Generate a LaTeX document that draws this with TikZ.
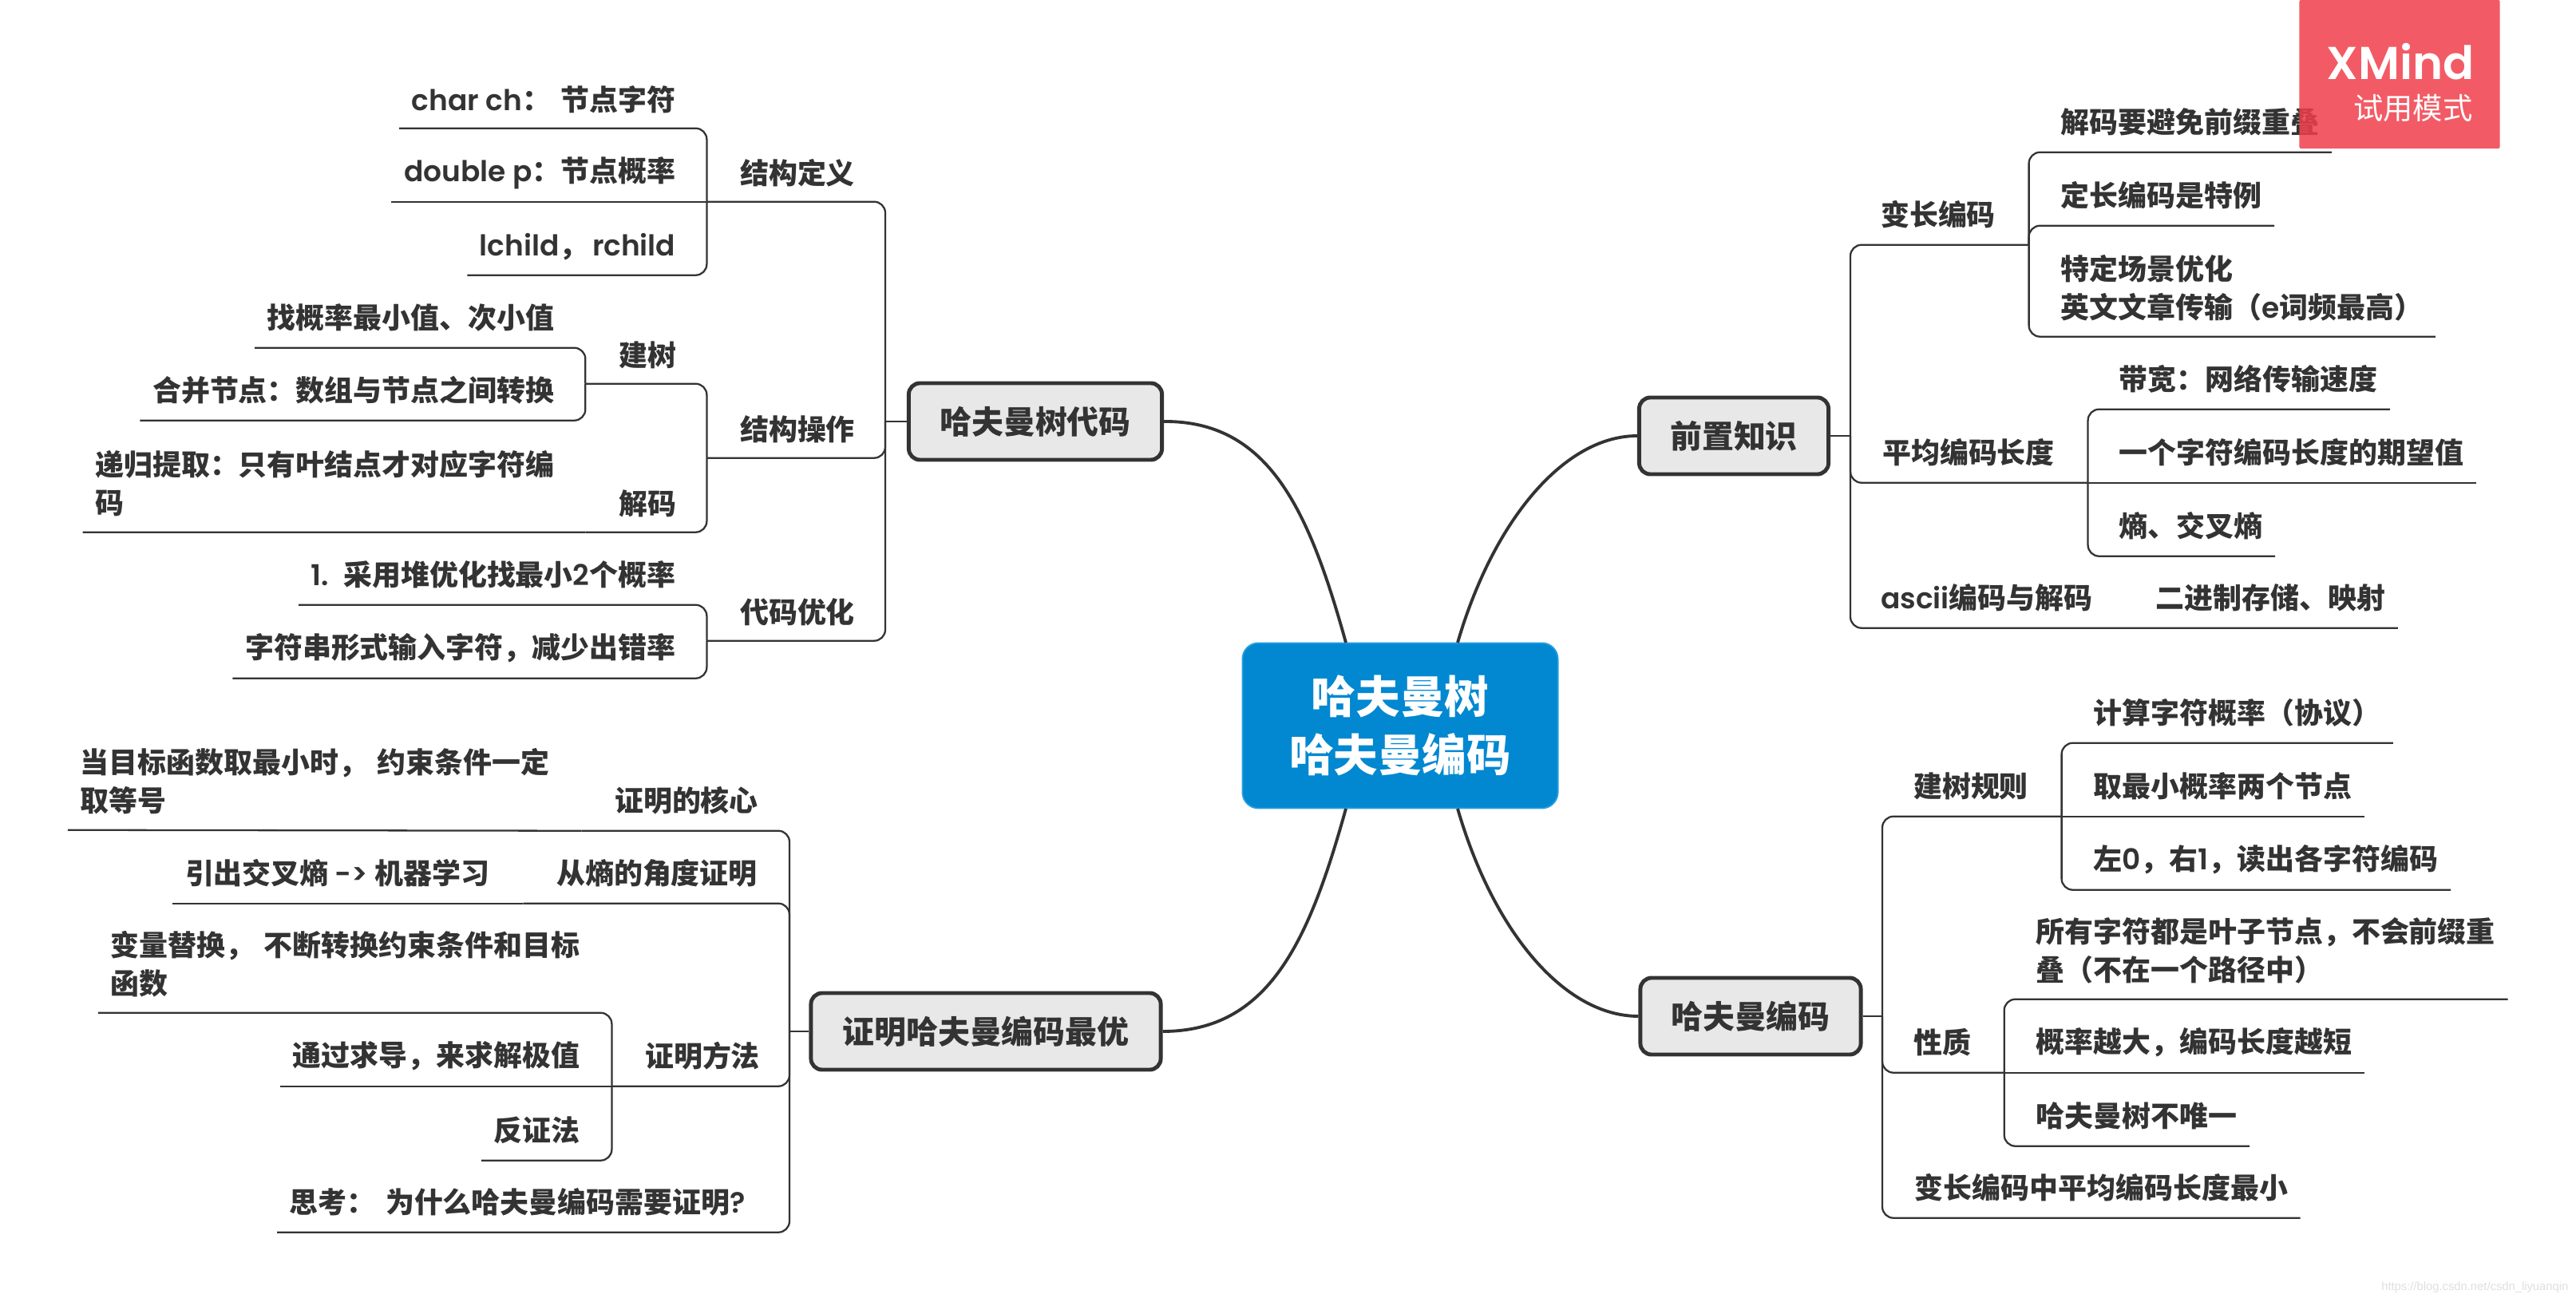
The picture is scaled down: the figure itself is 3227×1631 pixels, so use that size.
\documentclass[tikz,border=0pt]{standalone}
\usepackage{fontspec}
\setmainfont{Noto Sans CJK SC}
\newfontfamily\latfont{Poppins}[BoldFont=* SemiBold]
\newfontfamily\srcfont{Liberation Sans}
\newcommand{\lat}[1]{{\latfont #1}}
\newcommand{\wide}{\hspace{0.35em}}
\definecolor{inkgray}{HTML}{333333}
\definecolor{boxgray}{HTML}{E8E8E8}
\definecolor{rootblue}{HTML}{0288D1}
\definecolor{rootedge}{HTML}{2A9FE0}
\definecolor{markred}{HTML}{F03E4A}
\tikzset{
  leafnode/.style={inner xsep=0.15cm, inner ysep=0pt, minimum height=0.74cm, align=left, text=inkgray, font=\fontsize{10.22}{13.65}\selectfont\bfseries},
  longleaf/.style={leafnode, minimum height=1.2cm},
  midnode/.style={leafnode, inner xsep=0.41cm},
  branchbox/.style={draw=inkgray, line width=1.4pt, fill=boxgray, rounded corners=0.14cm, minimum height=0.96cm, inner sep=0pt, text=inkgray, font=\fontsize{11.34}{14}\selectfont\bfseries},
  treeline/.style={draw=inkgray, line width=0.65pt, rounded corners=0.14cm},
  curveline/.style={draw=inkgray, line width=1.1pt}
}
\begin{document}
\begin{tikzpicture}[x=0.01cm, y=-0.01cm]
    \useasboundingbox (0,0) rectangle (3227,1631);

    % Central topic and branches
    \node[draw=rootedge, line width=0.5pt, fill=rootblue, rounded corners=0.2cm, minimum width=3.95cm, minimum height=2.07cm, align=center, text=white, font=\fontsize{15.8}{20.7}\selectfont\bfseries] (root) at (1754,909) {哈夫曼树\\哈夫曼编码};
    \node[branchbox, minimum width=3.17cm] (treecode) at (1297,528) {哈夫曼树代码};
    \node[branchbox, minimum width=2.37cm] (prior) at (2172,546) {前置知识};
    \node[branchbox, minimum width=4.38cm] (proof) at (1235,1292) {证明哈夫曼编码最优};
    \node[branchbox, minimum width=2.76cm] (coding) at (2193,1273) {哈夫曼编码};

    \draw[curveline] (1686,805) .. controls (1640,640) and (1590,527) .. (treecode.east);
    \draw[curveline] (1826,805) .. controls (1871,651) and (1960,546) .. (prior.west);
    \draw[curveline] (1686,1013) .. controls (1640,1178) and (1590,1292) .. (proof.east);
    \draw[curveline] (1826,1013) .. controls (1871,1168) and (1960,1273) .. (coding.west);

    % Tree code
    \coordinate (treecodeB) at (1109,528);
    \node[midnode, minimum height=0.7cm] (define) at (999,217) {结构定义};
    \node[midnode, minimum height=0.7cm] (operate) at (999,538) {结构操作};
    \node[midnode, minimum height=0.7cm] (optimize) at (999,767) {代码优化};
    \node[leafnode, minimum height=0.7cm, anchor=east] (charch) at (862,125) {\lat{char ch}：\wide 节点字符};
    \node[leafnode, minimum height=0.7cm, anchor=east] (doublep) at (862,217) {\lat{double p}：节点概率};
    \node[leafnode, minimum height=0.7cm, anchor=east] (lchild) at (862,309) {\lat{lchild}，\hspace{0.15em}\lat{rchild}};
    \node[midnode, minimum height=0.7cm] (build) at (811,445) {建树};
    \node[midnode, minimum height=0.7cm] (decode) at (811,631) {解码};
    \node[leafnode, anchor=east] (findmin) at (710,398) {找概率最小值、次小值};
    \node[leafnode, anchor=east] (merge) at (710,489) {合并节点：数组与节点之间转换};
    \node[longleaf, anchor=east] (recur) at (710,606) {递归提取：只有叶结点才对应字符编\\码};
    \node[leafnode, anchor=east] (heap) at (862,720) {\lat{1.}\hspace{0.2em} 采用堆优化找最小\lat{2}个概率};
    \node[leafnode, anchor=east] (strin) at (862,812) {字符串形式输入字符，减少出错率};

    \draw[treeline] (treecode.west) -- (treecodeB);
    \draw[treeline] (define.south west) -| (treecodeB);
    \draw[treeline] (operate.south west) -| (treecodeB);
    \draw[treeline] (optimize.south west) -| (treecodeB);
    \draw[treeline] (charch.south west) -| (define.south west);
    \draw[treeline] (doublep.south west) -- (define.south west);
    \draw[treeline] (lchild.south west) -| (define.south west);
    \draw[treeline] (build.south west) -| (operate.south west);
    \draw[treeline] (decode.south west) -| (operate.south west);
    \draw[treeline] (findmin.south west) -| (build.south west);
    \draw[treeline] (merge.south west) -| (build.south west);
    \draw[treeline] (recur.south west) -- (decode.south west);
    \draw[treeline] (heap.south west) -| (optimize.south west);
    \draw[treeline] (strin.south west) -| (optimize.south west);

    % Proof
    \coordinate (proofB) at (989,1292);
    \node[midnode] (core) at (860,1003) {证明的核心};
    \node[midnode] (entropy) at (823,1094) {从熵的角度证明};
    \node[midnode] (method) at (880,1323) {证明方法};
    \node[longleaf, anchor=east] (target) at (704,979) {当目标函数取最小时，\wide 约束条件一定\\取等号};
    \node[leafnode, anchor=east] (cross) at (629,1094) {引出交叉熵 \lat{->} 机器学习};
    \node[longleaf, anchor=east] (swap) at (742,1208) {变量替换，\wide 不断转换约束条件和目标\\函数};
    \node[leafnode, anchor=east] (deriv) at (742,1323) {通过求导，来求解极值};
    \node[leafnode, anchor=east] (contra) at (742,1416) {反证法};
    \node[leafnode, anchor=west] (think) at (347,1506) {思考：\wide 为什么哈夫曼编码需要证明\lat{?}};

    \draw[treeline] (proof.west) -- (proofB);
    \draw[treeline] (target.south west) -- (core.south west);
    \draw[treeline] (core.south west) -| (proofB);
    \draw[treeline] (cross.south west) -- (entropy.south west);
    \draw[treeline] (entropy.south west) -| (proofB);
    \draw[treeline] (method.south west) -| (proofB);
    \draw[treeline] (think.south west) -| (proofB);
    \draw[treeline] (swap.south west) -| (method.south west);
    \draw[treeline] (deriv.south west) -- (method.south west);
    \draw[treeline] (contra.south west) -| (method.south west);

    % Prior knowledge
    \coordinate (priorB) at (2318,546);
    \node[midnode] (varlen) at (2428,269) {变长编码};
    \node[midnode] (avglen) at (2466,567) {平均编码长度};
    \node[midnode] (ascii) at (2489,749) {\lat{ascii}编码与解码};
    \node[leafnode, anchor=west] (prefix) at (2566,153) {解码要避免前缀重叠};
    \node[leafnode, anchor=west] (fixed) at (2566,245) {定长编码是特例};
    \node[longleaf, anchor=west] (scene) at (2566,361) {特定场景优化\\英文文章传输（\lat{e}词频最高）};
    \node[leafnode, anchor=west] (band) at (2639,475) {带宽：网络传输速度};
    \node[leafnode, anchor=west] (expect) at (2639,567) {一个字符编码长度的期望值};
    \node[leafnode, anchor=west] (shang) at (2639,659) {熵、交叉熵};
    \node[leafnode, anchor=west] (binary) at (2685,749) {二进制存储、映射};

    \draw[treeline] (prior.east) -- (priorB);
    \draw[treeline] (varlen.south east) -| (priorB);
    \draw[treeline] (avglen.south east) -| (priorB);
    \draw[treeline] (binary.south east) -| (priorB);
    \draw[treeline] (prefix.south east) -| (varlen.south east);
    \draw[treeline] (fixed.south east) -| (varlen.south east);
    \draw[treeline] (scene.south east) -| (varlen.south east);
    \draw[treeline] (band.south east) -| (avglen.south east);
    \draw[treeline] (expect.south east) -- (avglen.south east);
    \draw[treeline] (shang.south east) -| (avglen.south east);

    % Huffman coding
    \coordinate (codingB) at (2358,1273);
    \node[midnode] (rule) at (2469,985) {建树规则};
    \node[midnode] (nature) at (2433,1306) {性质};
    \node[leafnode, anchor=west] (shortest) at (2383,1488) {变长编码中平均编码长度最小};
    \node[leafnode, anchor=west] (calc) at (2607,893) {计算字符概率（协议）};
    \node[leafnode, anchor=west] (two) at (2607,985) {取最小概率两个节点};
    \node[leafnode, anchor=west] (leftright) at (2607,1077) {左\lat{0}，右\lat{1}，读出各字符编码};
    \node[longleaf, anchor=west] (allleaf) at (2535,1191) {所有字符都是叶子节点，不会前缀重\\叠（不在一个路径中）};
    \node[leafnode, anchor=west] (bigger) at (2535,1306) {概率越大，编码长度越短};
    \node[leafnode, anchor=west] (notuniq) at (2535,1398) {哈夫曼树不唯一};

    \draw[treeline] (coding.east) -- (codingB);
    \draw[treeline] (rule.south east) -| (codingB);
    \draw[treeline] (nature.south east) -| (codingB);
    \draw[treeline] (shortest.south east) -| (codingB);
    \draw[treeline] (calc.south east) -| (rule.south east);
    \draw[treeline] (two.south east) -- (rule.south east);
    \draw[treeline] (leftright.south east) -| (rule.south east);
    \draw[treeline] (allleaf.south east) -| (nature.south east);
    \draw[treeline] (bigger.south east) -- (nature.south east);
    \draw[treeline] (notuniq.south east) -| (nature.south east);

    % Trial mark and source line
    \node[fill=markred, fill opacity=0.85, rounded corners=0.02cm, minimum width=2.51cm, minimum height=1.86cm, inner sep=0pt] (mark) at (3006,93) {};
    \node[anchor=east, inner sep=0pt, text=white, font=\fontsize{16.4}{20}\latfont\bfseries] (xmind) at (3100,77) {XMind};
    \node[anchor=east, inner sep=0pt, text=white, font=\fontsize{10.6}{13}\selectfont] (trial) at (3098,135) {试用模式};
    \node[anchor=east, inner sep=0pt, text=gray!25, font=\fontsize{4.2}{5}\srcfont] (source) at (3218,1613) {https://blog.csdn.net/csdn\_liyuanqin};
\end{tikzpicture}
\end{document}
